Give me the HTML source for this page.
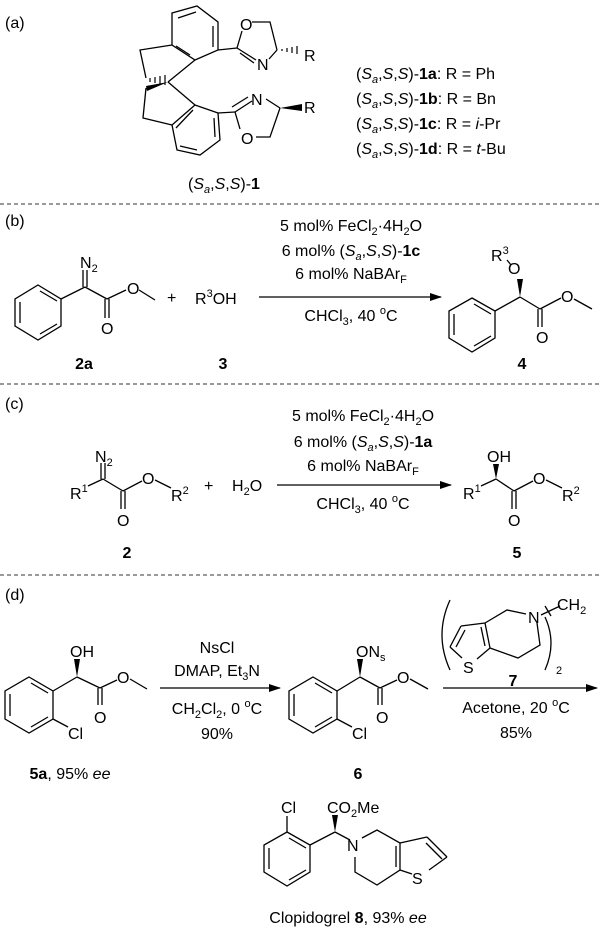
<!DOCTYPE html>
<html><head><meta charset="utf-8"><style>
html,body{margin:0;padding:0;background:#fff}
svg{display:block}
text{font-family:"Liberation Sans",Arial,sans-serif;font-size:16px;fill:#000}
.l{stroke:#000;stroke-width:1.3;fill:none}
.d{stroke:#333;stroke-width:1;stroke-dasharray:4 3}
.b{font-weight:bold}
.s{font-size:11px}
</style></head><body>
<svg width="600" height="932" viewBox="0 0 600 932">
<defs><marker id="ah" markerWidth="12" markerHeight="8" refX="11" refY="4" orient="auto" markerUnits="userSpaceOnUse"><path d="M0,0 L12,4 L0,8 Z" fill="#000"/></marker></defs>

<!-- (a) -->
<text x="5" y="28">(a)</text>
<g class="l">
<polygon points="172,13 197,6 218,22 218,50 195,60 172,45"/>
<line x1="178" y1="18" x2="196" y2="12"/><line x1="213" y1="26" x2="213" y2="47"/>
<line x1="190" y1="55" x2="176" y2="46"/>
<polyline points="172,45 140,50 146,78"/>
<line x1="195" y1="60" x2="168" y2="82"/>
<line x1="168" y1="82" x2="195" y2="105"/>
<polyline points="146,88 143,118 172,125"/>
<polygon points="195,105 218,113 220,140 200,155 177,150 172,125"/>
<line x1="214" y1="118" x2="215" y2="137"/><line x1="197" y1="150" x2="180" y2="146"/>
<line x1="176" y1="128" x2="193" y2="110"/>
<line x1="218" y1="50" x2="237" y2="48"/>
<line x1="237" y1="48" x2="242" y2="31"/><polyline points="252,22 270,22 277,50"/>
<line x1="237" y1="48" x2="256" y2="60"/><line x1="240" y1="53" x2="254" y2="63"/>
<line x1="269" y1="59" x2="277" y2="50"/>
<line x1="218" y1="113" x2="235" y2="112"/>
<line x1="235" y1="112" x2="252" y2="101"/><line x1="232" y1="107" x2="248" y2="97"/>
<line x1="266" y1="99" x2="280" y2="108"/>
<polyline points="280,108 270,137 256,137"/><line x1="235" y1="112" x2="240" y2="129"/>
</g>
<g stroke="#000" stroke-width="1.2">
<line x1="150" y1="78" x2="150" y2="82"/><line x1="155" y1="77" x2="155" y2="83"/><line x1="160" y1="76" x2="160" y2="84"/><line x1="165" y1="75" x2="165" y2="85"/>
<line x1="282" y1="51" x2="282" y2="49"/><line x1="287" y1="52" x2="287" y2="48"/><line x1="292" y1="53" x2="292" y2="47"/><line x1="297" y1="54" x2="297" y2="46"/>
</g>
<polygon points="168,82 146,86 147,91" fill="#000"/>
<polygon points="280,108 302,104 302,111" fill="#000"/>
<text x="240" y="30">O</text><text x="257" y="70">N</text><text x="304" y="61">R</text>
<text x="251" y="105">N</text><text x="241" y="144">O</text><text x="304" y="113">R</text>
<text x="188" y="189">(<tspan font-style="italic">S</tspan><tspan class="s" font-style="italic" dy="4">a</tspan><tspan dy="-4">,</tspan><tspan font-style="italic">S</tspan>,<tspan font-style="italic">S</tspan>)-<tspan class="b">1</tspan></text>
<g>
<text x="356" y="79">(<tspan font-style="italic">S</tspan><tspan class="s" font-style="italic" dy="4">a</tspan><tspan dy="-4">,</tspan><tspan font-style="italic">S</tspan>,<tspan font-style="italic">S</tspan>)-<tspan class="b">1a</tspan>: R = Ph</text>
<text x="356" y="104">(<tspan font-style="italic">S</tspan><tspan class="s" font-style="italic" dy="4">a</tspan><tspan dy="-4">,</tspan><tspan font-style="italic">S</tspan>,<tspan font-style="italic">S</tspan>)-<tspan class="b">1b</tspan>: R = Bn</text>
<text x="356" y="129">(<tspan font-style="italic">S</tspan><tspan class="s" font-style="italic" dy="4">a</tspan><tspan dy="-4">,</tspan><tspan font-style="italic">S</tspan>,<tspan font-style="italic">S</tspan>)-<tspan class="b">1c</tspan>: R = <tspan font-style="italic">i</tspan>-Pr</text>
<text x="356" y="154">(<tspan font-style="italic">S</tspan><tspan class="s" font-style="italic" dy="4">a</tspan><tspan dy="-4">,</tspan><tspan font-style="italic">S</tspan>,<tspan font-style="italic">S</tspan>)-<tspan class="b">1d</tspan>: R = <tspan font-style="italic">t</tspan>-Bu</text>
</g>

<line class="d" x1="0" y1="204" x2="600" y2="204"/>
<!-- (b) -->
<text x="5" y="226">(b)</text>
<g class="l">
<polygon points="38,285 61,299 61,326 38,340 15,326 15,299"/>
<line x1="20" y1="302" x2="20" y2="323"/><line x1="40" y1="334" x2="57" y2="324"/><line x1="40" y1="291" x2="57" y2="301"/>
<line x1="61" y1="299" x2="85" y2="287"/>
<line x1="83" y1="287" x2="83" y2="270"/><line x1="87" y1="287" x2="87" y2="270"/>
<line x1="85" y1="287" x2="107" y2="299"/>
<line x1="105" y1="299" x2="105" y2="318"/><line x1="109" y1="299" x2="109" y2="318"/>
<line x1="107" y1="299" x2="126" y2="290"/><line x1="139" y1="290" x2="155" y2="300"/>
<polygon points="472,298 495,311 495,338 472,352 449,338 449,311"/>
<line x1="454" y1="314" x2="454" y2="335"/><line x1="474" y1="346" x2="491" y2="336"/><line x1="474" y1="304" x2="491" y2="314"/>
<line x1="495" y1="311" x2="520" y2="297"/>
<line x1="520" y1="297" x2="540" y2="309"/>
<line x1="538" y1="309" x2="538" y2="327"/><line x1="542" y1="309" x2="542" y2="327"/>
<line x1="540" y1="309" x2="561" y2="298"/><line x1="574" y1="299" x2="592" y2="309"/>
<line x1="507" y1="260" x2="511" y2="265"/>
</g>
<polygon points="520,297 517,279 523,279" fill="#000"/>
<text x="80" y="268">N<tspan class="s" dy="4">2</tspan></text>
<text x="101" y="334">O</text><text x="127" y="294">O</text>
<text x="167" y="303">+</text>
<text x="195" y="304">R<tspan class="s" dy="-7">3</tspan><tspan dy="7">OH</tspan></text>
<line class="l" x1="259" y1="297" x2="441" y2="297" marker-end="url(#ah)"/>
<g text-anchor="middle">
<text x="351" y="231">5 mol% FeCl<tspan class="s" dy="4">2</tspan><tspan dy="-4">·4H</tspan><tspan class="s" dy="4">2</tspan><tspan dy="-4">O</tspan></text>
<text x="351" y="256">6 mol% (<tspan font-style="italic">S</tspan><tspan class="s" font-style="italic" dy="4">a</tspan><tspan dy="-4">,</tspan><tspan font-style="italic">S</tspan>,<tspan font-style="italic">S</tspan>)-<tspan class="b">1c</tspan></text>
<text x="351" y="279">6 mol% NaBAr<tspan class="s" dy="4">F</tspan></text>
<text x="351" y="321">CHCl<tspan class="s" dy="4">3</tspan><tspan dy="-4">, 40 </tspan><tspan class="s" dy="-7">o</tspan><tspan dy="7">C</tspan></text>
<text class="b" x="84" y="369">2a</text><text class="b" x="223" y="369">3</text><text class="b" x="522" y="369">4</text>
</g>
<text x="491" y="261">R<tspan class="s" dy="-7">3</tspan></text>
<text x="508" y="274">O</text>
<text x="536" y="343">O</text><text x="561" y="302">O</text>

<line class="d" x1="0" y1="384" x2="600" y2="384"/>
<!-- (c) -->
<text x="5" y="409">(c)</text>
<g class="l">
<line x1="88" y1="486" x2="103" y2="479"/>
<line x1="101" y1="479" x2="101" y2="463"/><line x1="105" y1="479" x2="105" y2="463"/>
<line x1="103" y1="479" x2="123" y2="491"/>
<line x1="121" y1="491" x2="121" y2="509"/><line x1="125" y1="491" x2="125" y2="509"/>
<line x1="123" y1="491" x2="142" y2="481"/><line x1="155" y1="480" x2="171" y2="488"/>
<line x1="481" y1="486" x2="496" y2="479"/>
<line x1="496" y1="479" x2="514" y2="491"/>
<line x1="512" y1="491" x2="512" y2="509"/><line x1="516" y1="491" x2="516" y2="509"/>
<line x1="514" y1="491" x2="533" y2="481"/><line x1="546" y1="480" x2="562" y2="488"/>
</g>
<polygon points="496,479 493,464 499,464" fill="#000"/>
<text x="70" y="499">R<tspan class="s" dy="-7">1</tspan></text>
<text x="95" y="462">N<tspan class="s" dy="4">2</tspan></text>
<text x="117" y="526">O</text><text x="142" y="484">O</text>
<text x="171" y="501">R<tspan class="s" dy="-7">2</tspan></text>
<text x="204" y="491">+</text>
<text x="232" y="491">H<tspan class="s" dy="4">2</tspan><tspan dy="-4">O</tspan></text>
<line class="l" x1="277" y1="485" x2="451" y2="485" marker-end="url(#ah)"/>
<g text-anchor="middle">
<text x="363" y="421">5 mol% FeCl<tspan class="s" dy="4">2</tspan><tspan dy="-4">·4H</tspan><tspan class="s" dy="4">2</tspan><tspan dy="-4">O</tspan></text>
<text x="363" y="447">6 mol% (<tspan font-style="italic">S</tspan><tspan class="s" font-style="italic" dy="4">a</tspan><tspan dy="-4">,</tspan><tspan font-style="italic">S</tspan>,<tspan font-style="italic">S</tspan>)-<tspan class="b">1a</tspan></text>
<text x="363" y="471">6 mol% NaBAr<tspan class="s" dy="4">F</tspan></text>
<text x="363" y="509">CHCl<tspan class="s" dy="4">3</tspan><tspan dy="-4">, 40 </tspan><tspan class="s" dy="-7">o</tspan><tspan dy="7">C</tspan></text>
<text class="b" x="127" y="558">2</text><text class="b" x="517" y="558">5</text>
</g>
<text x="463" y="499">R<tspan class="s" dy="-7">1</tspan></text>
<text x="487" y="462">OH</text>
<text x="508" y="526">O</text><text x="533" y="484">O</text>
<text x="562" y="501">R<tspan class="s" dy="-7">2</tspan></text>

<line class="d" x1="0" y1="575" x2="600" y2="575"/>
<!-- (d) -->
<text x="5" y="600">(d)</text>
<g class="l">
<polygon points="29,677 53,691 53,719 29,733 5,719 5,691"/>
<line x1="10" y1="694" x2="10" y2="716"/><line x1="31" y1="727" x2="48" y2="717"/><line x1="31" y1="683" x2="48" y2="693"/>
<line x1="53" y1="691" x2="77" y2="677"/>
<line x1="53" y1="719" x2="68" y2="727"/>
<line x1="77" y1="677" x2="100" y2="688"/>
<line x1="98" y1="688" x2="98" y2="705"/><line x1="102" y1="688" x2="102" y2="705"/>
<line x1="100" y1="688" x2="117" y2="680"/><line x1="130" y1="679" x2="147" y2="689"/>
<polygon points="313,677 337,691 337,719 313,733 289,719 289,691"/>
<line x1="294" y1="694" x2="294" y2="716"/><line x1="315" y1="727" x2="332" y2="717"/><line x1="315" y1="683" x2="332" y2="693"/>
<line x1="337" y1="691" x2="360" y2="677"/>
<line x1="337" y1="719" x2="352" y2="727"/>
<line x1="360" y1="677" x2="380" y2="688"/>
<line x1="378" y1="688" x2="378" y2="705"/><line x1="382" y1="688" x2="382" y2="705"/>
<line x1="380" y1="688" x2="397" y2="680"/><line x1="410" y1="679" x2="428" y2="689"/>
</g>
<polygon points="77,677 74,659 80,659" fill="#000"/>
<polygon points="360,677 357,659 363,659" fill="#000"/>
<text x="70" y="657">OH</text>
<text x="94" y="723">O</text><text x="117" y="683">O</text>
<text x="68" y="739">Cl</text>
<text x="356" y="657">ON<tspan class="s" dy="4">s</tspan></text>
<text x="376" y="723">O</text><text x="397" y="683">O</text>
<text x="352" y="739">Cl</text>
<g text-anchor="middle">
<text x="217" y="653">NsCl</text>
<text x="217" y="676">DMAP, Et<tspan class="s" dy="4">3</tspan><tspan dy="-4">N</tspan></text>
<text x="217" y="714">CH<tspan class="s" dy="4">2</tspan><tspan dy="-4">Cl</tspan><tspan class="s" dy="4">2</tspan><tspan dy="-4">, 0 </tspan><tspan class="s" dy="-7">o</tspan><tspan dy="7">C</tspan></text>
<text x="217" y="739">90%</text>
<text x="516" y="713">Acetone, 20 <tspan class="s" dy="-7">o</tspan><tspan dy="7">C</tspan></text>
<text x="516" y="738">85%</text>
<text class="b" x="513" y="686">7</text>
<text x="70" y="779"><tspan class="b">5a</tspan>, 95% <tspan font-style="italic">ee</tspan></text>
<text class="b" x="358" y="779">6</text>
<text x="348" y="923">Clopidogrel <tspan class="b">8</tspan>, 93% <tspan font-style="italic">ee</tspan></text>
</g>
<line class="l" x1="160" y1="688" x2="280" y2="688" marker-end="url(#ah)"/>
<line class="l" x1="443" y1="688" x2="597" y2="688" marker-end="url(#ah)"/>
<!-- 7 -->
<path class="l" d="M450,600 Q434,635 450,670"/>
<path class="l" d="M545,617 Q557,643 545,670"/>
<text class="s" x="556" y="674">2</text>
<g class="l">
<polyline points="485,623 507,610 526,614"/>
<polyline points="537,623 540,645 518,658 490,648"/>
<line x1="485" y1="623" x2="490" y2="648"/><line x1="481" y1="627" x2="485" y2="646"/>
<line x1="485" y1="623" x2="461" y2="626"/>
<line x1="461" y1="626" x2="450" y2="647"/><line x1="465" y1="630" x2="456" y2="647"/>
<line x1="450" y1="647" x2="462" y2="658"/><line x1="477" y1="659" x2="490" y2="648"/>
<line x1="541" y1="615" x2="560" y2="606"/>
<line x1="545" y1="606" x2="551" y2="616"/>
</g>
<text x="528" y="623">N</text><text x="463" y="673">S</text>
<text x="557" y="610">CH<tspan class="s" dy="4">2</tspan></text>
<!-- 8 -->
<g class="l">
<polygon points="287,832 310,845 310,872 287,886 264,872 264,845"/>
<line x1="269" y1="848" x2="269" y2="869"/><line x1="289" y1="880" x2="306" y2="870"/><line x1="289" y1="838" x2="306" y2="848"/>
<line x1="287" y1="832" x2="287" y2="816"/>
<line x1="310" y1="845" x2="335" y2="832"/>
<line x1="335" y1="832" x2="350" y2="840"/>
<polyline points="362,838 377,830 400,843 400,870 377,885 355,872 355,857"/>
<line x1="396" y1="846" x2="396" y2="867"/>
<line x1="400" y1="843" x2="427" y2="837"/>
<line x1="427" y1="837" x2="447" y2="857"/><line x1="426" y1="843" x2="442" y2="859"/>
<line x1="447" y1="857" x2="429" y2="870"/><line x1="412" y1="874" x2="400" y2="870"/>
</g>
<polygon points="335,832 332,815 338,815" fill="#000"/>
<text x="281" y="813">Cl</text>
<text x="327" y="813">CO<tspan class="s" dy="4">2</tspan><tspan dy="-4">Me</tspan></text>
<text x="347" y="851">N</text>
<text x="412" y="884">S</text>
</svg>
</body></html>
